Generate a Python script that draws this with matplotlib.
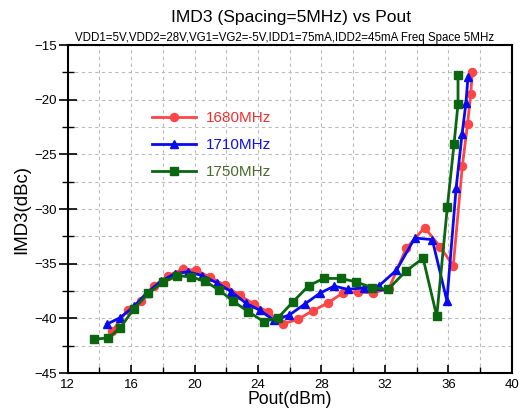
import matplotlib
matplotlib.use("Agg")
import matplotlib.pyplot as plt
from matplotlib.ticker import MultipleLocator

plt.rcParams['font.family'] = ['Liberation Sans', 'DejaVu Sans']

x_1680 = [14.8, 15.8, 16.6, 17.46, 18.34, 19.25, 20.1, 21.0, 21.9, 22.85, 23.75, 24.6, 25.57,
          26.5, 27.46, 28.4, 29.35, 30.3, 31.23, 32.24, 33.33, 34.5, 35.47, 36.3, 36.87, 37.2, 37.4, 37.5]
y_1680 = [-41.2, -39.2, -38.4, -37.0, -36.1, -35.5, -35.6, -36.25, -36.96, -37.9, -38.7, -39.4, -40.5,
          -40.1, -39.3, -38.6, -37.66, -37.6, -37.66, -37.3, -33.6, -31.7, -33.45, -35.2, -26.1, -22.25, -19.5, -17.5]

x_1710 = [14.46, 15.3, 16.2, 17.0, 17.9, 18.76, 19.6, 20.5, 21.4, 22.33, 23.23, 24.1, 25.0,
          25.97, 26.94, 27.9, 28.8, 29.66, 30.65, 31.6, 32.72, 33.88, 34.98, 35.9, 36.48, 36.86, 37.1, 37.23]
y_1710 = [-40.55, -39.95, -38.9, -37.65, -36.6, -35.9, -35.74, -36.1, -36.75, -37.57, -38.6, -39.25, -40.16,
          -39.7, -38.7, -37.7, -37.05, -37.35, -37.2, -37.05, -35.6, -32.65, -32.8, -38.4, -28.1, -23.1, -20.3, -17.9]

x_1750 = [13.67, 14.57, 15.3, 16.2, 17.1, 18.0, 18.9, 19.77, 20.65, 21.55, 22.4, 23.4, 24.36, 25.26,
          26.2, 27.2, 28.15, 29.2, 30.15, 31.2, 32.2, 33.3, 34.4, 35.26, 35.93, 36.35, 36.6, 36.6]
y_1750 = [-41.9, -41.8, -40.9, -39.1, -37.7, -36.7, -36.1, -36.2, -36.6, -37.4, -38.4, -39.4, -40.3, -39.95,
          -38.5, -37.0, -36.35, -36.35, -36.65, -37.2, -37.35, -35.7, -34.5, -39.8, -29.8, -24.05, -20.4, -17.7]

labels = ['1680MHz', '1710MHz', '1750MHz']
colors = ['#FF4545', '#0A0AF0', '#0B6610']
text_colors = ['#F03030', '#1010E8', '#4A6B2A']

fig = plt.figure(figsize=(5.25, 4.17), dpi=100)
ax = fig.add_axes([0.1286, 0.1055, 0.9752 - 0.1286, 0.892 - 0.1055])

ax.plot(x_1680, y_1680, color=colors[0], marker='o', markersize=5.8, linewidth=2, label=labels[0])
ax.plot(x_1710, y_1710, color=colors[1], marker='^', markersize=6.2, linewidth=2, label=labels[1])
ax.plot(x_1750, y_1750, color=colors[2], marker='s', markersize=5.2, linewidth=2, label=labels[2])

ax.set_xlim(12, 40)
ax.set_ylim(-45, -15)
ax.xaxis.set_major_locator(MultipleLocator(4))
ax.xaxis.set_minor_locator(MultipleLocator(2))
ax.yaxis.set_major_locator(MultipleLocator(5))
ax.yaxis.set_minor_locator(MultipleLocator(2.5))
ax.tick_params(which='both', top=False, right=False, labelsize=9.5)
ax.tick_params(axis='x', which='major', direction='in', length=6, width=1.2, pad=4)
ax.tick_params(axis='x', which='minor', direction='in', length=4, width=1.0)
ax.tick_params(axis='y', which='major', direction='inout', length=13, width=1.2, pad=1)
ax.tick_params(axis='y', which='minor', direction='inout', length=9, width=1.0)
ax.grid(True, which='both', linestyle=(0, (3, 3)), color='#BBBBBB', linewidth=0.8)
for s in ax.spines.values():
    s.set_linewidth(1.5)

ax.set_xlabel('Pout(dBm)', fontsize=12.7, labelpad=0)
ax.set_ylabel('IMD3(dBc)', fontsize=13.4, labelpad=3)

fig.text(0.555, 0.958, 'IMD3 (Spacing=5MHz) vs Pout', ha='center', va='center', fontsize=12.6)
fig.text(0.542, 0.909, 'VDD1=5V,VDD2=28V,VG1=VG2=-5V,IDD1=75mA,IDD2=45mA Freq Space 5MHz',
         ha='center', va='center', fontsize=8.3)

leg = ax.legend(loc='upper left', bbox_to_anchor=(0.190, 0.799), frameon=False, fontsize=11,
                handlelength=2.9, labelspacing=0.85, handletextpad=0.6,
                borderpad=0, borderaxespad=0)
for t, c in zip(leg.get_texts(), text_colors):
    t.set_color(c)

fig.savefig('out.png', dpi=100)
